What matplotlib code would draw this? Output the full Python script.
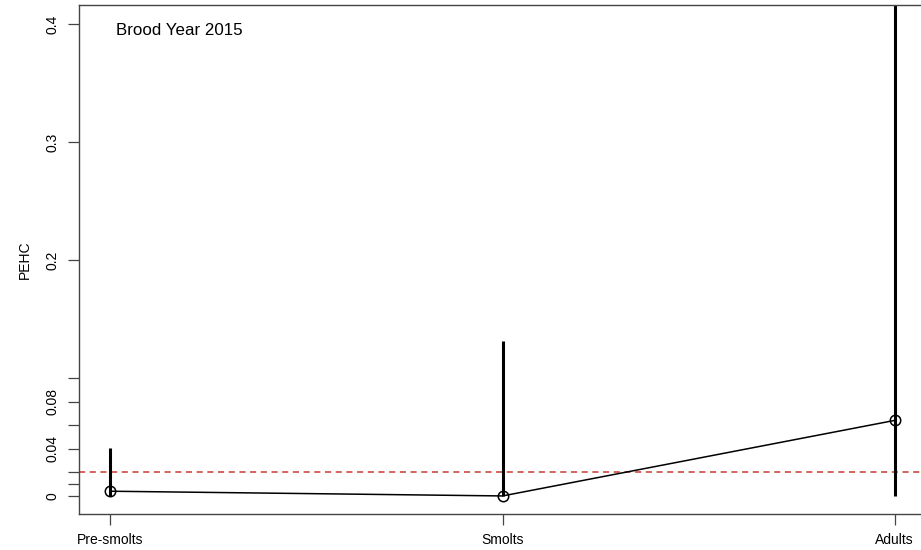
import numpy as np
import matplotlib.pyplot as plt

plt.rcParams['font.family'] = ['Liberation Sans', 'DejaVu Sans']

stages = ['Pre-smolts', 'Smolts', 'Adults']
pehc = [0.004, 0.0, 0.064]
lower = [0.0, 0.0, 0.0]
upper = [0.041, 0.131, 0.42]
threshold = 0.02

yticks_major = [0, 0.04, 0.08, 0.2, 0.3, 0.4]
ytick_labels = ['0', '0.04', '0.08', '0.2', '0.3', '0.4']
yticks_minor = [0.01, 0.02, 0.06, 0.1]

fig = plt.figure(figsize=(9.21, 5.5), dpi=100)
ax = fig.add_axes([79/921, 36/550, 847/921, 509/550])

x = np.arange(1, len(stages) + 1)

# confidence intervals as plain thick segments
ax.vlines(x, lower, upper, color='black', lw=2.2, zorder=2)
ax.plot(x, pehc, color='black', lw=1.1, zorder=3)
ax.plot(x, pehc, 'o', ms=7.5, mfc='none', mec='black', mew=1.1, zorder=4)
ax.axhline(threshold, color='#c83a32', ls=(0, (4, 3)), lw=1.1, zorder=1)

ax.set_xlim(0.92, 3.08)
ax.set_ylim(-0.0153, 0.416)

ax.set_xticks(x)
ax.set_xticklabels(stages)
ax.set_yticks(yticks_major)
ax.set_yticklabels(ytick_labels, rotation=90, va='center')
ax.set_yticks(yticks_minor, minor=True)

ax.tick_params(axis='both', length=8, width=0.9, color='#444444', labelsize=10, pad=6)
ax.tick_params(axis='y', which='minor', length=8, width=0.9, color='#444444')

for s in ax.spines.values():
    s.set_color('#444444')
    s.set_linewidth(1.0)

ax.set_ylabel('PEHC', fontsize=10, labelpad=10)
ax.text(1.015, 0.394, 'Brood Year 2015', fontsize=12.2, ha='left', va='center')

fig.savefig('out.png', dpi=100)
